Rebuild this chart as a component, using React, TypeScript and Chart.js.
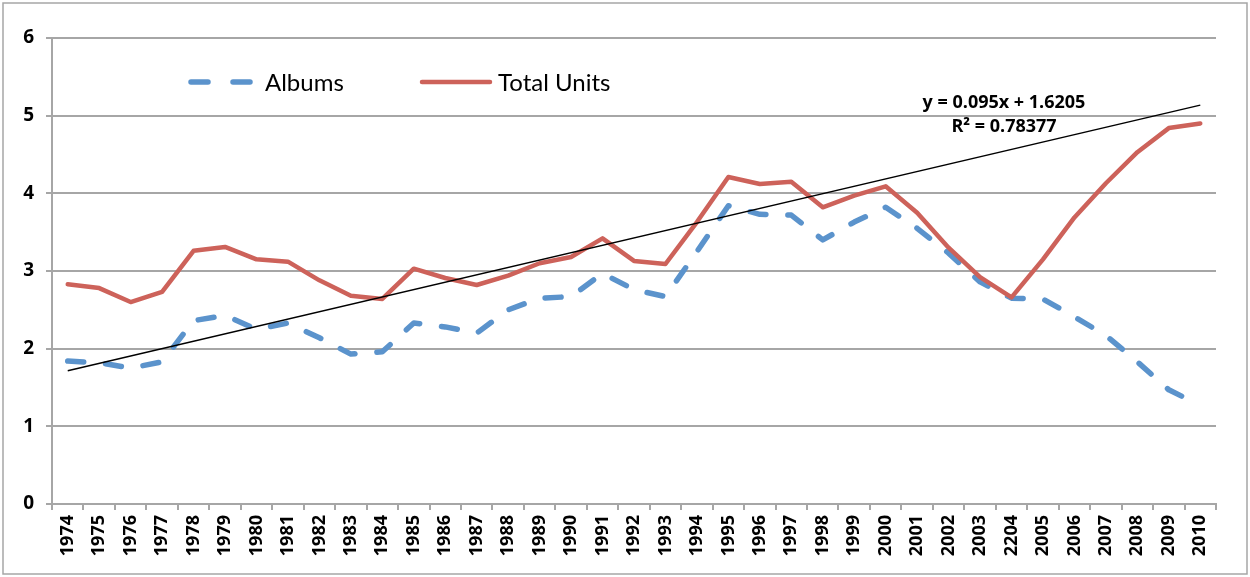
import React, { useEffect, useRef } from "react";
import { Chart, registerables } from "chart.js";

Chart.register(...registerables);

const years: string[] = [
  "1974", "1975", "1976", "1977", "1978", "1979", "1980", "1981", "1982", "1983",
  "1984", "1985", "1986", "1987", "1988", "1989", "1990", "1991", "1992", "1993",
  "1994", "1995", "1996", "1997", "1998", "1999", "2000", "2001", "2002", "2003",
  "2204", "2005", "2006", "2007", "2008", "2009", "2010",
];

const albums: number[] = [
  1.84, 1.82, 1.75, 1.83, 2.36, 2.43, 2.25, 2.33, 2.14, 1.93,
  1.96, 2.33, 2.28, 2.2, 2.5, 2.65, 2.67, 2.97, 2.76, 2.67,
  3.25, 3.84, 3.73, 3.72, 3.4, 3.63, 3.82, 3.55, 3.23, 2.86,
  2.65, 2.64, 2.41, 2.17, 1.83, 1.47, 1.27,
];

const totalUnits: number[] = [
  2.83, 2.78, 2.6, 2.73, 3.26, 3.31, 3.15, 3.12, 2.88, 2.68,
  2.64, 3.03, 2.91, 2.82, 2.94, 3.1, 3.18, 3.42, 3.13, 3.09,
  3.63, 4.21, 4.12, 4.15, 3.82, 3.97, 4.09, 3.75, 3.3, 2.92,
  2.66, 3.15, 3.69, 4.13, 4.53, 4.84, 4.9,
];

const yTicks: number[] = [0, 1, 2, 3, 4, 5, 6];

// Trendline as printed on the chart: y = 0.095x + 1.6205 (x = 1..n)
const trendSlope = 0.095;
const trendIntercept = 1.6205;
const trendLabel = "y = 0.095x + 1.6205";
const r2Label = "R² = 0.78377";

const seriesNames = ["Albums", "Total Units"];

const RED = "#CD625A";
const BLUE = "#5B93CC";

export default function App() {
  const canvasRef = useRef<HTMLCanvasElement | null>(null);

  useEffect(() => {
    document.body.style.margin = "0";
    const canvas = canvasRef.current;
    if (!canvas) return;

    const n = years.length;
    const trend: (number | null)[] = years.map((_, i) =>
      i === 0 || i === n - 1 ? trendSlope * (i + 1) + trendIntercept : null
    );

    const overlay = {
      id: "overlay",
      afterDraw(chart: any) {
        const ctx = chart.ctx as CanvasRenderingContext2D;
        ctx.save();
        // outer frame
        ctx.strokeStyle = "#a6a6a6";
        ctx.lineWidth = 1.5;
        ctx.strokeRect(3, 3, 1244, 571);

        // legend
        ctx.lineCap = "round";
        ctx.lineWidth = 5.5;
        ctx.strokeStyle = BLUE;
        ctx.setLineDash([17, 25]);
        ctx.beginPath();
        ctx.moveTo(191, 82);
        ctx.lineTo(253, 82);
        ctx.stroke();
        ctx.setLineDash([]);
        ctx.lineWidth = 4.5;
        ctx.strokeStyle = RED;
        ctx.beginPath();
        ctx.moveTo(422, 82);
        ctx.lineTo(490, 82);
        ctx.stroke();

        ctx.fillStyle = "#000";
        ctx.font = "24px Lato";
        ctx.textBaseline = "middle";
        ctx.textAlign = "left";
        ctx.fillText(seriesNames[0], 265, 83);
        ctx.fillText(seriesNames[1], 498, 83);

        // trend equation
        ctx.font = "bold 18px 'Open Sans'";
        ctx.textAlign = "center";
        ctx.fillText(trendLabel, 1004, 103);
        ctx.fillText(r2Label, 1004, 127);
        ctx.restore();
      },
    };

    const chart = new Chart(canvas, {
      type: "line",
      data: {
        labels: years,
        datasets: [
          {
            label: "Trend",
            data: trend,
            borderColor: "#000",
            borderWidth: 1.5,
            pointRadius: 0,
            spanGaps: true,
            order: 0,
          },
          {
            label: seriesNames[1],
            data: totalUnits,
            borderColor: RED,
            borderWidth: 4.5,
            borderJoinStyle: "round",
            borderCapStyle: "round",
            pointRadius: 0,
            tension: 0,
            order: 1,
          },
          {
            label: seriesNames[0],
            data: albums,
            borderColor: BLUE,
            borderWidth: 5.5,
            borderDash: [16, 22],
            borderCapStyle: "round",
            borderJoinStyle: "round",
            pointRadius: 0,
            tension: 0,
            order: 2,
          },
        ],
      },
      options: {
        responsive: false,
        animation: false,
        events: [],
        layout: { padding: { top: 38, right: 34, left: 0, bottom: 0 } },
        plugins: {
          legend: { display: false },
          tooltip: { enabled: false },
          title: { display: false },
        },
        scales: {
          x: {
            type: "category",
            offset: true,
            grid: {
              offset: true,
              drawOnChartArea: false,
              drawTicks: true,
              tickLength: 6,
              color: "#a6a6a6",
              lineWidth: 2,
            },
            border: { color: "#a6a6a6", width: 2 },
            ticks: {
              autoSkip: false,
              maxRotation: 90,
              minRotation: 90,
              padding: 5,
              color: "#000",
              font: { family: "'Open Sans'", size: 18, weight: "bold" },
            },
            afterFit: (s: any) => {
              s.height = 73;
            },
          },
          y: {
            min: 0,
            max: 6,
            afterBuildTicks: (s: any) => {
              s.ticks = yTicks.map((v) => ({ value: v }));
            },
            grid: {
              color: "#a6a6a6",
              lineWidth: 2,
              drawTicks: true,
              tickLength: 6,
            },
            border: { color: "#a6a6a6", width: 2 },
            ticks: {
              padding: 12,
              color: "#000",
              font: { family: "'Open Sans'", size: 19, weight: "bold" },
            },
            afterFit: (s: any) => {
              s.width = 52;
            },
          },
        },
      },
      plugins: [overlay],
    });

    return () => chart.destroy();
  }, []);

  return (
    <div style={{ width: 1250, height: 577, background: "#fff" }}>
      <canvas ref={canvasRef} width={1250} height={577} style={{ display: "block", width: 1250, height: 577 }} />
    </div>
  );
}
